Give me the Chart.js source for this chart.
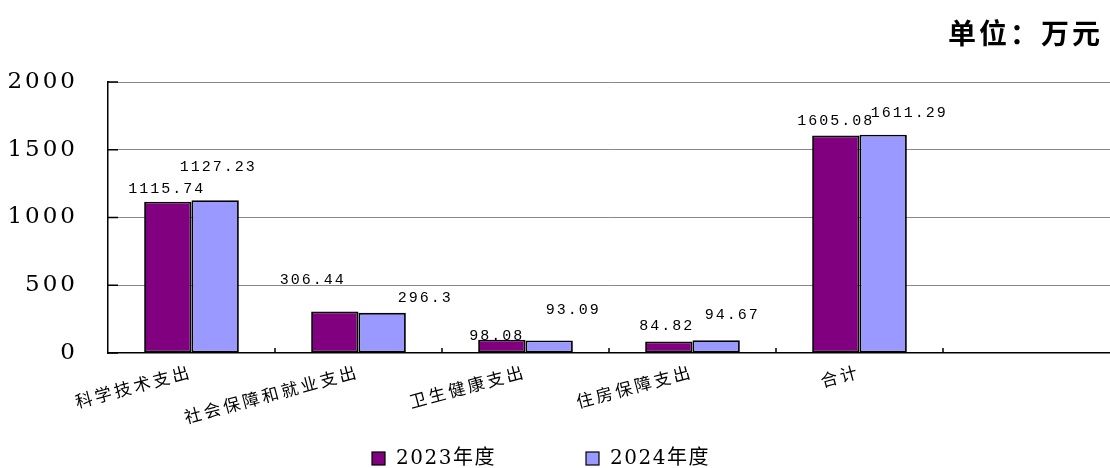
<!DOCTYPE html>
<html>
<head>
<meta charset="utf-8">
<script src="https://cdn.jsdelivr.net/npm/chart.js@4.4.1/dist/chart.umd.min.js"></script>
<style>
  html, body { margin: 0; padding: 0; background: #fff; }
  #wrap { width: 1110px; height: 468px; }
</style>
</head>
<body>
<div id="wrap"><canvas id="budgetChart"></canvas></div>
<script>
const categories = ['科学技术支出', '社会保障和就业支出', '卫生健康支出', '住房保障支出', '合计', ''];
const seriesNames = ['2023年度', '2024年度'];
const values2023 = [1115.74, 306.44, 98.08, 84.82, 1605.08, null];
const values2024 = [1127.23, 296.3, 93.09, 94.67, 1611.29, null];
const yMin = 0, yMax = 2000, yStep = 500;
const unitText = '单位：万元';

// label nudges (px from bar top centre), like the original layout
const labelNudge = [
    [[-1, -13], [-22, -31], [-5, -4], [-2, -15], [0, -14]],
    [[3, -33], [43, -15], [24, -30], [16, -25], [26, -22]]
];
// legend item left edges
const legendX = [372, 586];

const extras = {
    id: 'extras',
    beforeDraw(chart) {
        // wide glyph spacing for axis text
        chart.ctx.letterSpacing = '3px';
    },
    afterDraw(chart) {
        const ctx = chart.ctx;
        const area = chart.chartArea;
        const x = chart.scales.x, y = chart.scales.y;
        ctx.letterSpacing = '0px';
        ctx.save();

        // inward tick marks
        ctx.strokeStyle = '#000';
        ctx.lineWidth = 1.5;
        ctx.beginPath();
        y.ticks.forEach(t => {
            const py = y.getPixelForValue(t.value);
            ctx.moveTo(area.left, py);
            ctx.lineTo(area.left + 10, py);
        });
        for (let i = 1; i < categories.length; i++) {
            const px = (x.getPixelForTick(i - 1) + x.getPixelForTick(i)) / 2;
            ctx.moveTo(px, area.bottom);
            ctx.lineTo(px, area.bottom - 5);
        }
        ctx.stroke();

        // value labels
        ctx.font = '15px "Liberation Mono"';
        ctx.letterSpacing = '2px';
        ctx.fillStyle = '#000';
        ctx.textAlign = 'center';
        ctx.textBaseline = 'middle';
        chart.data.datasets.forEach((ds, di) => {
            chart.getDatasetMeta(di).data.forEach((bar, i) => {
                const v = ds.data[i];
                if (v == null) return;
                const n = labelNudge[di][i] || [0, -12];
                ctx.fillText(String(v), bar.x + n[0], bar.y + n[1]);
            });
        });

        // legend
        ctx.font = '20px "DejaVu Serif", "Noto Sans CJK SC"';
        ctx.letterSpacing = '1.5px';
        ctx.textAlign = 'left';
        chart.data.datasets.forEach((ds, di) => {
            const lx = legendX[di];
            ctx.fillStyle = ds.backgroundColor;
            ctx.fillRect(lx, 452, 13, 13);
            ctx.lineWidth = 1.2;
            ctx.strokeStyle = '#000';
            ctx.strokeRect(lx, 452, 13, 13);
            ctx.fillStyle = '#000';
            ctx.fillText(ds.label, lx + 24, 459);
        });

        // unit caption
        ctx.letterSpacing = '3px';
        ctx.font = 'bold 28px "Noto Sans CJK SC"';
        ctx.fillStyle = '#000';
        ctx.textAlign = 'right';
        ctx.fillText(unitText, 1103, 33);
        ctx.restore();
    }
};

const ctx = document.getElementById('budgetChart').getContext('2d');
const chart = new Chart(ctx, {
    type: 'bar',
    data: {
        labels: categories,
        datasets: [{
            label: seriesNames[0],
            data: values2023,
            backgroundColor: '#800080',
            borderColor: '#000',
            borderWidth: 1.8,
            borderSkipped: false
        }, {
            label: seriesNames[1],
            data: values2024,
            backgroundColor: '#9999FF',
            borderColor: '#000',
            borderWidth: 1.8,
            borderSkipped: false
        }]
    },
    options: {
        responsive: true,
        maintainAspectRatio: false,
        animation: false,
        layout: { padding: { top: 82, right: 0, bottom: 0, left: 0 } },
        datasets: {
            bar: { categoryPercentage: 0.567, barPercentage: 1 }
        },
        scales: {
            x: {
                grid: { display: false },
                border: { display: true, color: '#000', width: 1.5 },
                ticks: {
                    minRotation: 15,
                    maxRotation: 15,
                    autoSkip: false,
                    padding: 0,
                    color: '#000',
                    font: { family: '"Noto Sans CJK SC"', size: 17 }
                },
                afterFit(scale) { scale.height = 115; }
            },
            y: {
                min: yMin,
                max: yMax,
                grid: {
                    drawTicks: false,
                    color: c => c.tick.value === 0 ? 'rgba(0,0,0,0)' : '#888',
                    lineWidth: 1
                },
                border: { display: true, color: '#000', width: 1.5 },
                ticks: {
                    stepSize: yStep,
                    padding: 30,
                    color: '#000',
                    font: { family: '"DejaVu Serif"', size: 23 },
                    callback: v => String(v)
                },
                afterFit(scale) { scale.width = 108; }
            }
        },
        plugins: {
            legend: { display: false },
            tooltip: { enabled: false }
        }
    },
    plugins: [extras]
});
</script>
</body>
</html>
